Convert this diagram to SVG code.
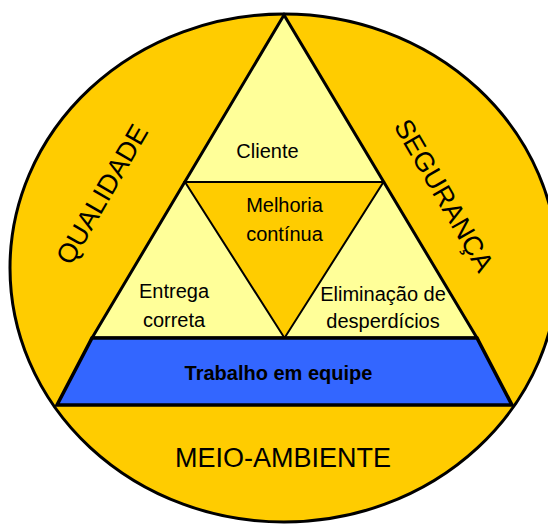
<svg xmlns="http://www.w3.org/2000/svg" width="548" height="524" viewBox="0 0 548 524">
<style>
.t{font-family:"Liberation Sans",Arial,sans-serif;fill:#000;text-anchor:middle}
.s{font-size:20px}
.b{font-size:27px}
.k{stroke:#000;stroke-linejoin:miter}
</style>
<rect width="548" height="524" fill="#fff"/>
<g id="outer">
<ellipse cx="284" cy="268" rx="274" ry="254" fill="#FFCC00" class="k" stroke-width="3"/>
</g>
<g id="triangle">
<polygon points="284,15 92,338 477,338" fill="#FFFF99" class="k" stroke-width="3"/>
</g>
<g id="melhoria">
<polygon points="185,182 383.5,182 284.5,338" fill="#FFCC00" class="k" stroke-width="2"/>
</g>
<g id="trabalho">
<polygon points="92,338 477,338 512,405 57,405" fill="#3366FF" class="k" stroke-width="3.5"/>
</g>
<g id="labels">
<text class="t s" x="267.5" y="158">Cliente</text>
<text class="t s" x="284.5" y="212">Melhoria</text>
<text class="t s" x="284.5" y="241">contínua</text>
<text class="t s" x="174" y="298">Entrega</text>
<text class="t s" x="174" y="327">correta</text>
<text class="t s" x="383" y="301">Eliminação de</text>
<text class="t s" x="383" y="328">desperdícios</text>
<text class="t s" x="278.5" y="380" font-weight="bold" font-size="20.5px">Trabalho em equipe</text>
<text class="t b" x="283" y="467" font-size="28px">MEIO-AMBIENTE</text>
<text class="t b" x="110" y="199" transform="rotate(-60 110 199)">QUALIDADE</text>
<text class="t b" x="436" y="200" transform="rotate(60 436 200)">SEGURANÇA</text>
</g>
</svg>
